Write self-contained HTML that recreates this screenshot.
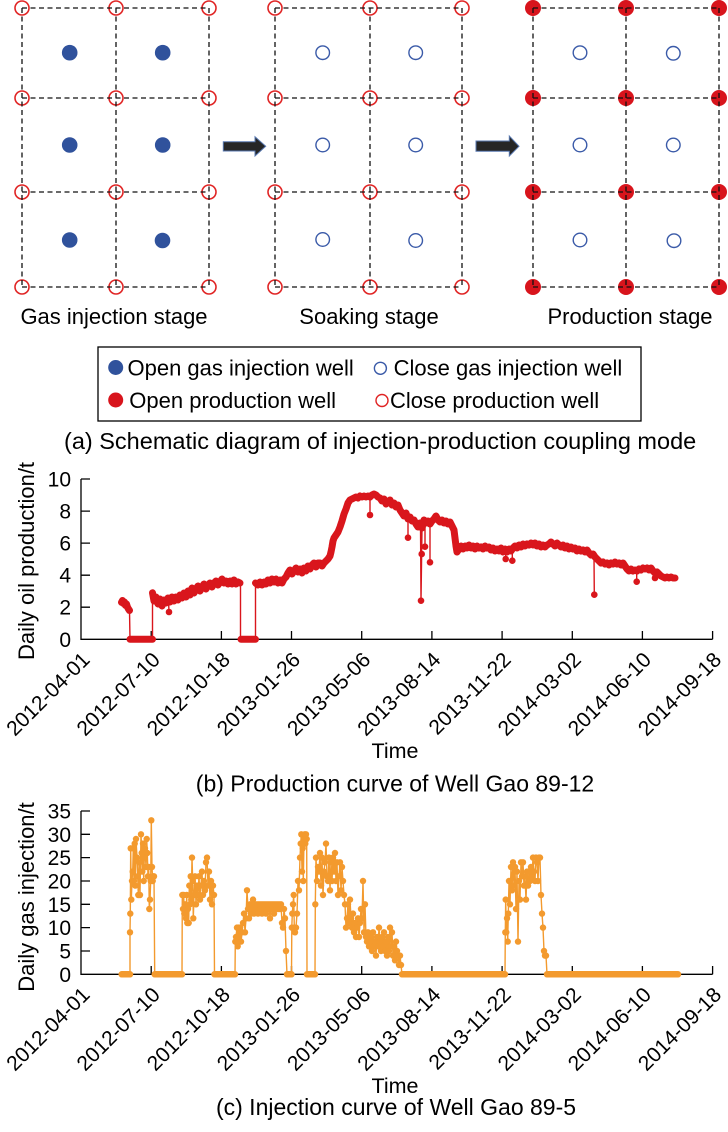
<!DOCTYPE html>
<html><head><meta charset="utf-8"><style>
html,body{margin:0;padding:0;background:#fff}
svg{display:block}
text{font-family:"Liberation Sans",Arial,sans-serif;fill:#000}
</style></head><body>
<svg width="728" height="1132" viewBox="0 0 728 1132" xmlns="http://www.w3.org/2000/svg">
<rect width="728" height="1132" fill="#fff"/>

<!-- ===== Grid 1 ===== -->
<g fill="none" stroke="#e02424" stroke-width="1.6">
<circle cx="22" cy="8" r="7"/><circle cx="116" cy="8" r="7"/><circle cx="209" cy="8" r="7"/>
<circle cx="22" cy="98" r="7"/><circle cx="116" cy="98" r="7"/><circle cx="209" cy="98" r="7"/>
<circle cx="22" cy="192" r="7"/><circle cx="116" cy="192" r="7"/><circle cx="209" cy="192" r="7"/>
<circle cx="22" cy="287" r="7"/><circle cx="116" cy="287" r="7"/><circle cx="209" cy="287" r="7"/>
</g>
<g fill="#30529c">
<circle cx="69.7" cy="52.7" r="7.8"/><circle cx="162.7" cy="52.7" r="7.8"/>
<circle cx="69.7" cy="145" r="7.8"/><circle cx="162.7" cy="145" r="7.8"/>
<circle cx="69.7" cy="240" r="7.8"/><circle cx="162.5" cy="240.5" r="7.8"/>
</g>
<g stroke="#111" stroke-width="1.3" stroke-dasharray="5 3.5" fill="none">
<path d="M22 8V287M116 8V287M209 8V287M22 8H209M22 98H209M22 192H209M22 287H209"/>
</g>

<!-- ===== Grid 2 ===== -->
<g fill="none" stroke="#e02424" stroke-width="1.6">
<circle cx="275" cy="8" r="7"/><circle cx="370" cy="8" r="7"/><circle cx="462" cy="8" r="7"/>
<circle cx="275" cy="98" r="7"/><circle cx="370" cy="98" r="7"/><circle cx="462" cy="98" r="7"/>
<circle cx="275" cy="192" r="7"/><circle cx="370" cy="192" r="7"/><circle cx="462" cy="192" r="7"/>
<circle cx="275" cy="287" r="7"/><circle cx="370" cy="287" r="7"/><circle cx="462" cy="287" r="7"/>
</g>
<g fill="none" stroke="#3a5aa8" stroke-width="1.4">
<circle cx="322.7" cy="52.7" r="6.8"/><circle cx="415.7" cy="52.7" r="6.8"/>
<circle cx="322.7" cy="145" r="6.8"/><circle cx="415.7" cy="145" r="6.8"/>
<circle cx="322.7" cy="239.5" r="6.8"/><circle cx="415.7" cy="240.5" r="6.8"/>
</g>
<g stroke="#111" stroke-width="1.3" stroke-dasharray="5 3.5" fill="none">
<path d="M275 8V287M370 8V287M462 8V287M275 8H462M275 98H462M275 192H462M275 287H462"/>
</g>

<!-- ===== Grid 3 ===== -->
<g fill="#d8141c">
<circle cx="533" cy="8" r="8"/><circle cx="626" cy="8" r="8"/><circle cx="719" cy="8" r="8"/>
<circle cx="533" cy="98" r="8"/><circle cx="626" cy="98" r="8"/><circle cx="719" cy="98" r="8"/>
<circle cx="533" cy="192" r="8"/><circle cx="626" cy="192" r="8"/><circle cx="719" cy="192" r="8"/>
<circle cx="533" cy="287" r="8"/><circle cx="626" cy="287" r="8"/><circle cx="719" cy="287" r="8"/>
</g>
<g fill="none" stroke="#3a5aa8" stroke-width="1.4">
<circle cx="580" cy="52.7" r="6.8"/><circle cx="673.3" cy="53.3" r="6.8"/>
<circle cx="580" cy="145" r="6.8"/><circle cx="673.3" cy="145" r="6.8"/>
<circle cx="580" cy="240" r="6.8"/><circle cx="674" cy="240.7" r="6.8"/>
</g>
<g stroke="#111" stroke-width="1.3" stroke-dasharray="5 3.5" fill="none">
<path d="M533 8V287M626 8V287M719 8V287M533 8H719M533 98H719M533 192H719M533 287H719"/>
</g>

<!-- arrows -->
<polygon points="223.3,141.7 255,141.7 255,136.7 265.7,146.3 255,156 255,151 223.3,151" fill="#262626" stroke="#5878b0" stroke-width="1"/>
<polygon points="476,141 509.3,141 509.3,136 519,146.3 509.3,156 509.3,151.3 476,151.3" fill="#262626" stroke="#5878b0" stroke-width="1"/>

<!-- stage labels -->
<g font-size="22" text-anchor="middle">
<text x="114" y="324">Gas injection stage</text>
<text x="369" y="324">Soaking stage</text>
<text x="630" y="324">Production stage</text>
</g>

<!-- legend -->
<rect x="98" y="347" width="543" height="74" fill="none" stroke="#000" stroke-width="1.3"/>
<circle cx="115.7" cy="367.5" r="7.5" fill="#30529c"/>
<circle cx="380.4" cy="368.3" r="6" fill="none" stroke="#3a5aa8" stroke-width="1.4"/>
<circle cx="115.7" cy="400" r="7.5" fill="#d8141c"/>
<circle cx="382" cy="400.5" r="6" fill="none" stroke="#e02424" stroke-width="1.4"/>
<g font-size="22">
<text x="127.5" y="375.7">Open gas injection well</text>
<text x="393.6" y="375.7">Close gas injection well</text>
<text x="129.3" y="407.9">Open production well</text>
<text x="390" y="407.9">Close production well</text>
</g>
<text x="64" y="449" font-size="23.5">(a) Schematic diagram of injection-production coupling mode</text>

<!-- ===== Chart b ===== -->
<g stroke="#000" stroke-width="1.3" fill="none">
<path d="M81 479V639.3H712.6"/>
<path d="M81 479H90M81 511.1H90M81 543.1H90M81 575.2H90M81 607.2H90"/>
<path d="M151.2 639.3V631M221.4 639.3V631M291.5 639.3V631M361.7 639.3V631M431.9 639.3V631M502.1 639.3V631M572.3 639.3V631M642.4 639.3V631M712.6 639.3V631"/>
</g>
<g font-size="21" text-anchor="end">
<text x="71" y="486.5">10</text>
<text x="71" y="518.6">8</text>
<text x="71" y="550.6">6</text>
<text x="71" y="582.7">4</text>
<text x="71" y="614.7">2</text>
<text x="71" y="646.8">0</text>
</g>
<g font-size="21" text-anchor="end">
<text transform="translate(91,661) rotate(-45)">2012-04-01</text>
<text transform="translate(161.2,661) rotate(-45)">2012-07-10</text>
<text transform="translate(231.4,661) rotate(-45)">2012-10-18</text>
<text transform="translate(301.5,661) rotate(-45)">2013-01-26</text>
<text transform="translate(371.7,661) rotate(-45)">2013-05-06</text>
<text transform="translate(441.9,661) rotate(-45)">2013-08-14</text>
<text transform="translate(512.1,661) rotate(-45)">2013-11-22</text>
<text transform="translate(582.3,661) rotate(-45)">2014-03-02</text>
<text transform="translate(652.4,661) rotate(-45)">2014-06-10</text>
<text transform="translate(722.6,661) rotate(-45)">2014-09-18</text>
</g>
<text transform="translate(34,561) rotate(-90)" font-size="22" text-anchor="middle">Daily oil production/t</text>
<text x="395" y="758" font-size="21.5" text-anchor="middle">Time</text>
<text x="395" y="791.5" font-size="23" text-anchor="middle">(b) Production curve of Well Gao 89-12</text>

<!-- series b -->
<g stroke="#d9161c" fill="none" stroke-linejoin="round" stroke-linecap="round">
<g stroke-width="1.4">
<path d="M129.5 610.5L130 639.3M152.5 639.3V592.8M168.5 600L169 612M240.5 583V639.3M255.5 639.3V583M370 497V515M408 519V537.7M420.5 523L421 600.7L422 528M421.5 528L421.7 554M425 523V546.7M430 524V562.3M505.7 549V559M512.3 549V560.7M594 556L594.3 594.7M636.7 571V581.7M655 571V578"/>
</g>
<g stroke-width="7">
<path d="M130 639.3H152.5M241 639.3H255.5"/>
<polyline points="121.5,602.4 122.5,600.5 123.5,603.5 124.5,602 125.5,605.5 126.5,604 127.5,607.2 128.5,609 129.5,610.5"/>
<polyline points="152.5,592.8 154,601 156,597 158,604 160,599 162,606 164,600 166,603 168,598 170,602 172,597 174,601 176,597 178,600 180,595 182,598 184,593 186,597 188,591 190,595 192,588 194,593 196,589 198,586 200,591 202,587 204,584 206,589 208,585 210,583 212,587 214,583 216,581 218,585 220,582 222,579 224,583 226,581 228,584 230,581 232,584 234,580 236,584 238,582 240,583"/>
<polyline points="255.5,583 258,585 260,582 262,585 264,582 266,584 268,580 270,583 272,579 274,582 276,579 278,583 280,580 282,583 284,579 286,577 288,573 290,570 292,574 294,571 296,568 298,572 300,569 302,573 304,568 306,571 308,566 310,569 312,565 314,563 316,567 318,563 320,563 322,566 324,563 326,561 328,559 330,556 331,552 332,547 333,541 334,538 336,535 338,532 340,527 342,521 344,514 346,509 348,503 350,500 352,499 354,498 356,497 358,498 360,496 362,497 364,496 366,497 368,496 370,497 372,495 374,494 376,495 378,497 380,498 382,501 384,499 386,504 388,502 390,500 392,505 394,503 396,507 398,505 400,510 402,513 404,516 406,513 408,519 410,517 412,521 414,520 416,524 418,527 420,523 422,528 424,520 426,523 428,521 430,524 432,521 434,519 436,516 438,520 440,522 442,520 444,523 446,521 448,524 450,522 452,526 454,530 455,538 456,546 457,552 459,549 461,546 463,549 465,546 467,548 469,545 471,548 473,546 475,549 477,546 479,548 481,547 483,549 485,546 487,548 489,547 491,550 493,548 495,551 497,549 499,551 501,548 503,552 505,549 507,552 509,549 511,551 513,548 515,546 517,548 519,545 521,547 523,544 525,546 527,544 529,545 531,543 533,545 535,543 537,546 539,544 541,547 543,545 545,547 547,545 549,544 551,542 553,544 555,546 557,543 559,545 561,547 563,545 565,548 567,546 569,549 571,547 573,549 575,548 577,551 579,549 581,551 583,550 585,552 587,550 589,553 591,555 593,554 595,557 597,559 599,561 601,563 603,562 605,564 607,563 609,565 611,563 613,564 615,562 617,564 619,563 621,565 623,563 625,566 627,569 629,571 631,569 633,571 635,570 637,571 639,569 641,570 643,568 645,569 647,568 649,570 651,568 653,571 655,573 657,572 659,574 661,576 663,577 665,578 667,577 669,578 671,577 673,578 675,578"/>
</g>
</g>
<g fill="#d9161c">
<circle cx="169" cy="612" r="3.3"/><circle cx="370" cy="515" r="3.3"/><circle cx="408" cy="537.7" r="3.3"/>
<circle cx="421" cy="600.7" r="3.3"/><circle cx="421.7" cy="554" r="3.3"/><circle cx="425" cy="546.7" r="3.3"/>
<circle cx="430" cy="562.3" r="3.3"/><circle cx="505.7" cy="559" r="3.3"/><circle cx="512.3" cy="560.7" r="3.3"/>
<circle cx="594.3" cy="594.7" r="3.3"/><circle cx="636.7" cy="581.7" r="3.3"/><circle cx="655" cy="578" r="3.3"/>
</g>

<!-- ===== Chart c ===== -->
<g stroke="#000" stroke-width="1.3" fill="none">
<path d="M81 811V974.3H712.6"/>
<path d="M81 811H90M81 834.3H90M81 857.6H90M81 881H90M81 904.3H90M81 927.6H90M81 951H90"/>
<path d="M151.2 974.3V966M221.4 974.3V966M291.5 974.3V966M361.7 974.3V966M431.9 974.3V966M502.1 974.3V966M572.3 974.3V966M642.4 974.3V966M712.6 974.3V966"/>
</g>
<g font-size="21" text-anchor="end">
<text x="71" y="818.5">35</text>
<text x="71" y="841.8">30</text>
<text x="71" y="865.1">25</text>
<text x="71" y="888.5">20</text>
<text x="71" y="911.8">15</text>
<text x="71" y="935.1">10</text>
<text x="71" y="958.5">5</text>
<text x="71" y="981.8">0</text>
</g>
<g font-size="21" text-anchor="end">
<text transform="translate(91,996) rotate(-45)">2012-04-01</text>
<text transform="translate(161.2,996) rotate(-45)">2012-07-10</text>
<text transform="translate(231.4,996) rotate(-45)">2012-10-18</text>
<text transform="translate(301.5,996) rotate(-45)">2013-01-26</text>
<text transform="translate(371.7,996) rotate(-45)">2013-05-06</text>
<text transform="translate(441.9,996) rotate(-45)">2013-08-14</text>
<text transform="translate(512.1,996) rotate(-45)">2013-11-22</text>
<text transform="translate(582.3,996) rotate(-45)">2014-03-02</text>
<text transform="translate(652.4,996) rotate(-45)">2014-06-10</text>
<text transform="translate(722.6,996) rotate(-45)">2014-09-18</text>
</g>
<text transform="translate(34,897) rotate(-90)" font-size="22" text-anchor="middle">Daily gas injection/t</text>
<text x="395" y="1093" font-size="21.5" text-anchor="middle">Time</text>
<text x="396" y="1115" font-size="23" text-anchor="middle">(c) Injection curve of Well Gao 89-5</text>

<!-- series c -->
<g stroke="#f39a2e" fill="none" stroke-linejoin="round" stroke-linecap="round">
<path stroke-width="6.5" d="M121.7 974.3H130M154.7 974.3H182M214.5 974.3H235M287 974.3H291.5M307 974.3H315M402 974.3H505M547 974.3H678"/>
<g stroke-width="1.4">
<polyline points="130,974.3 130,932.3 130.3,913.6 130.7,848.3 131.3,899.6 132,881 132.7,871.6 133.3,848.3 134,881 134.7,843.6 135.3,885.6 136,839 137,857.6 137.7,876.3 138.3,895 139,862.3 140,895 141,834.3 141.7,853 142.3,871.6 143,843.6 143.7,881 144.3,857.6 145,848.3 146,867 146.7,839 147.3,853 148,876.3 148.7,867 149.3,909 150,899.6 150.7,881 151.3,820.3 152,867 152.7,881 153.3,876.3 154,876.3 154.7,974.3"/>
<polyline points="182,974.3 182.3,895 183,909 183.7,895 184.3,913.6 185,904.3 186,918.3 186.7,895 187.3,923 188,909 188.7,923 189.3,885.6 190,904.3 190.7,876.3 191.3,899.6 192,857.6 192.7,881 193.3,918.3 194,895 195,876.3 196,904.3 197,885.6 198,895 199,876.3 200,899.6 201,885.6 202,871.6 203,895 204,881 205,890.3 206,862.3 207,857.6 208,885.6 209,871.6 210,899.6 211,881 212,904.3 213,885.6 214,895 214.5,974.3"/>
<polyline points="235,974.3 235.3,941.6 236,937 237,927.6 237.7,946.3 238.3,927.6 239,937 240,927.6 241,941.6 242,932.3 243,923 244,913.6 245,932.3 246,918.3 247,890.3 248,909 249,918.3 250,904.3 251,913.6 252,909 253,899.6 254,913.6 255,904.3 256,909 257,904.3 258,913.6 259,904.3 260,909 261,904.3 262,913.6 263,904.3 264,909 265,904.3 266,913.6 267,904.3 268,909 269,904.3 270,918.3 271,904.3 272,909 273,904.3 274,913.6 275,904.3 276,909 277,904.3 278,909 279,904.3 280,909 281,904.3 282,923 283,927.6 284,909 285,918.3 286,951 287,974.3"/>
<polyline points="291.5,974.3 291.8,927.6 292.3,913.6 293,904.3 293.7,895 294.3,927.6 295,932.3 296,927.6 297,913.6 298,881 299,890.3 300,857.6 300.7,843.6 301.3,834.3 302,871.6 302.7,848.3 303.3,881 304,839 304.7,834.3 305.3,843.6 306,834.3 306.7,839 307,974.3"/>
<polyline points="315,974.3 315.3,904.3 316,857.6 317,881 318,867 319,871.6 320,853 321,885.6 322,857.6 323,895 324,871.6 325,862.3 326,843.6 327,876.3 328,881 329,857.6 330,890.3 331,862.3 332,881 333,857.6 334,871.6 335,853 336,881 337,862.3 338,895 339,876.3 340,862.3 341,890.3 342,867 343,881 344,895 345,904.3 346,927.6 347,918.3 348,904.3 349,923 350,899.6 351,918.3 352,927.6 353,913.6 354,932.3 355,923 356,937 357,927.6 358,918.3 359,937 360,923 361,909 362,918.3 363,881 364,932.3 365,904.3 366,937 367,941.6 368,932.3 369,946.3 370,937 371,941.6 372,951 373,932.3 374,946.3 375,941.6 376,955.6 377,937 378,946.3 379,927.6 380,941.6 381,951 382,937 383,946.3 384,932.3 385,951 386,941.6 387,955.6 388,937 389,951 390,927.6 391,946.3 392,932.3 393,955.6 394,946.3 395,960.3 396,941.6 397,951 398,955.6 399,965 400,955.6 401,965 402,974.3"/>
<polyline points="505,974.3 505.3,932.3 505.7,899.6 506.3,932.3 507,918.3 507.7,941.6 508.3,913.6 509,881 510,904.3 511,867 512,890.3 513,862.3 514,885.6 515,867 516,909 517,871.6 518,941.6 519,881 520,899.6 521,862.3 522,876.3 523,862.3 524,885.6 525,876.3 526,899.6 527,871.6 528,885.6 529,871.6 530,881 531,867 532,876.3 533,857.6 534,871.6 535,881 536,857.6 537,862.3 538,881 539,857.6 540,857.6 541,895 542,913.6 543,927.6 544,951 545,955.6 546,955.6 547,974.3"/>
</g>
</g>
<g fill="#f39a2e">
<circle cx="130" cy="932.3" r="3.2"/><circle cx="130.3" cy="913.6" r="3.2"/><circle cx="130.7" cy="848.3" r="3.2"/><circle cx="131.3" cy="899.6" r="3.2"/><circle cx="132" cy="881" r="3.2"/><circle cx="132.7" cy="871.6" r="3.2"/><circle cx="133.3" cy="848.3" r="3.2"/><circle cx="134" cy="881" r="3.2"/><circle cx="134.7" cy="843.6" r="3.2"/><circle cx="135.3" cy="885.6" r="3.2"/><circle cx="136" cy="839" r="3.2"/><circle cx="137" cy="857.6" r="3.2"/><circle cx="137.7" cy="876.3" r="3.2"/><circle cx="138.3" cy="895" r="3.2"/><circle cx="139" cy="862.3" r="3.2"/><circle cx="140" cy="895" r="3.2"/><circle cx="141" cy="834.3" r="3.2"/><circle cx="141.7" cy="853" r="3.2"/><circle cx="142.3" cy="871.6" r="3.2"/><circle cx="143" cy="843.6" r="3.2"/><circle cx="143.7" cy="881" r="3.2"/><circle cx="144.3" cy="857.6" r="3.2"/><circle cx="145" cy="848.3" r="3.2"/><circle cx="146" cy="867" r="3.2"/><circle cx="146.7" cy="839" r="3.2"/><circle cx="147.3" cy="853" r="3.2"/><circle cx="148" cy="876.3" r="3.2"/><circle cx="148.7" cy="867" r="3.2"/><circle cx="149.3" cy="909" r="3.2"/><circle cx="150" cy="899.6" r="3.2"/><circle cx="150.7" cy="881" r="3.2"/><circle cx="151.3" cy="820.3" r="3.2"/><circle cx="152" cy="867" r="3.2"/><circle cx="152.7" cy="881" r="3.2"/><circle cx="153.3" cy="876.3" r="3.2"/><circle cx="154" cy="876.3" r="3.2"/>
<circle cx="182.3" cy="895" r="3.2"/><circle cx="183" cy="909" r="3.2"/><circle cx="183.7" cy="895" r="3.2"/><circle cx="184.3" cy="913.6" r="3.2"/><circle cx="185" cy="904.3" r="3.2"/><circle cx="186" cy="918.3" r="3.2"/><circle cx="186.7" cy="895" r="3.2"/><circle cx="187.3" cy="923" r="3.2"/><circle cx="188" cy="909" r="3.2"/><circle cx="188.7" cy="923" r="3.2"/><circle cx="189.3" cy="885.6" r="3.2"/><circle cx="190" cy="904.3" r="3.2"/><circle cx="190.7" cy="876.3" r="3.2"/><circle cx="191.3" cy="899.6" r="3.2"/><circle cx="192" cy="857.6" r="3.2"/><circle cx="192.7" cy="881" r="3.2"/><circle cx="193.3" cy="918.3" r="3.2"/><circle cx="194" cy="895" r="3.2"/><circle cx="195" cy="876.3" r="3.2"/><circle cx="196" cy="904.3" r="3.2"/><circle cx="197" cy="885.6" r="3.2"/><circle cx="198" cy="895" r="3.2"/><circle cx="199" cy="876.3" r="3.2"/><circle cx="200" cy="899.6" r="3.2"/><circle cx="201" cy="885.6" r="3.2"/><circle cx="202" cy="871.6" r="3.2"/><circle cx="203" cy="895" r="3.2"/><circle cx="204" cy="881" r="3.2"/><circle cx="205" cy="890.3" r="3.2"/><circle cx="206" cy="862.3" r="3.2"/><circle cx="207" cy="857.6" r="3.2"/><circle cx="208" cy="885.6" r="3.2"/><circle cx="209" cy="871.6" r="3.2"/><circle cx="210" cy="899.6" r="3.2"/><circle cx="211" cy="881" r="3.2"/><circle cx="212" cy="904.3" r="3.2"/><circle cx="213" cy="885.6" r="3.2"/><circle cx="214" cy="895" r="3.2"/>
<circle cx="235.3" cy="941.6" r="3.2"/><circle cx="236" cy="937" r="3.2"/><circle cx="237" cy="927.6" r="3.2"/><circle cx="237.7" cy="946.3" r="3.2"/><circle cx="238.3" cy="927.6" r="3.2"/><circle cx="239" cy="937" r="3.2"/><circle cx="240" cy="927.6" r="3.2"/><circle cx="241" cy="941.6" r="3.2"/><circle cx="242" cy="932.3" r="3.2"/><circle cx="243" cy="923" r="3.2"/><circle cx="244" cy="913.6" r="3.2"/><circle cx="245" cy="932.3" r="3.2"/><circle cx="246" cy="918.3" r="3.2"/><circle cx="247" cy="890.3" r="3.2"/><circle cx="248" cy="909" r="3.2"/><circle cx="249" cy="918.3" r="3.2"/><circle cx="250" cy="904.3" r="3.2"/><circle cx="251" cy="913.6" r="3.2"/><circle cx="252" cy="909" r="3.2"/><circle cx="253" cy="899.6" r="3.2"/><circle cx="254" cy="913.6" r="3.2"/><circle cx="255" cy="904.3" r="3.2"/><circle cx="256" cy="909" r="3.2"/><circle cx="257" cy="904.3" r="3.2"/><circle cx="258" cy="913.6" r="3.2"/><circle cx="259" cy="904.3" r="3.2"/><circle cx="260" cy="909" r="3.2"/><circle cx="261" cy="904.3" r="3.2"/><circle cx="262" cy="913.6" r="3.2"/><circle cx="263" cy="904.3" r="3.2"/><circle cx="264" cy="909" r="3.2"/><circle cx="265" cy="904.3" r="3.2"/><circle cx="266" cy="913.6" r="3.2"/><circle cx="267" cy="904.3" r="3.2"/><circle cx="268" cy="909" r="3.2"/><circle cx="269" cy="904.3" r="3.2"/><circle cx="270" cy="918.3" r="3.2"/><circle cx="271" cy="904.3" r="3.2"/><circle cx="272" cy="909" r="3.2"/><circle cx="273" cy="904.3" r="3.2"/><circle cx="274" cy="913.6" r="3.2"/><circle cx="275" cy="904.3" r="3.2"/><circle cx="276" cy="909" r="3.2"/><circle cx="277" cy="904.3" r="3.2"/><circle cx="278" cy="909" r="3.2"/><circle cx="279" cy="904.3" r="3.2"/><circle cx="280" cy="909" r="3.2"/><circle cx="281" cy="904.3" r="3.2"/><circle cx="282" cy="923" r="3.2"/><circle cx="283" cy="927.6" r="3.2"/><circle cx="284" cy="909" r="3.2"/><circle cx="285" cy="918.3" r="3.2"/><circle cx="286" cy="951" r="3.2"/>
<circle cx="291.8" cy="927.6" r="3.2"/><circle cx="292.3" cy="913.6" r="3.2"/><circle cx="293" cy="904.3" r="3.2"/><circle cx="293.7" cy="895" r="3.2"/><circle cx="294.3" cy="927.6" r="3.2"/><circle cx="295" cy="932.3" r="3.2"/><circle cx="296" cy="927.6" r="3.2"/><circle cx="297" cy="913.6" r="3.2"/><circle cx="298" cy="881" r="3.2"/><circle cx="299" cy="890.3" r="3.2"/><circle cx="300" cy="857.6" r="3.2"/><circle cx="300.7" cy="843.6" r="3.2"/><circle cx="301.3" cy="834.3" r="3.2"/><circle cx="302" cy="871.6" r="3.2"/><circle cx="302.7" cy="848.3" r="3.2"/><circle cx="303.3" cy="881" r="3.2"/><circle cx="304" cy="839" r="3.2"/><circle cx="304.7" cy="834.3" r="3.2"/><circle cx="305.3" cy="843.6" r="3.2"/><circle cx="306" cy="834.3" r="3.2"/><circle cx="306.7" cy="839" r="3.2"/>
<circle cx="315.3" cy="904.3" r="3.2"/><circle cx="316" cy="857.6" r="3.2"/><circle cx="317" cy="881" r="3.2"/><circle cx="318" cy="867" r="3.2"/><circle cx="319" cy="871.6" r="3.2"/><circle cx="320" cy="853" r="3.2"/><circle cx="321" cy="885.6" r="3.2"/><circle cx="322" cy="857.6" r="3.2"/><circle cx="323" cy="895" r="3.2"/><circle cx="324" cy="871.6" r="3.2"/><circle cx="325" cy="862.3" r="3.2"/><circle cx="326" cy="843.6" r="3.2"/><circle cx="327" cy="876.3" r="3.2"/><circle cx="328" cy="881" r="3.2"/><circle cx="329" cy="857.6" r="3.2"/><circle cx="330" cy="890.3" r="3.2"/><circle cx="331" cy="862.3" r="3.2"/><circle cx="332" cy="881" r="3.2"/><circle cx="333" cy="857.6" r="3.2"/><circle cx="334" cy="871.6" r="3.2"/><circle cx="335" cy="853" r="3.2"/><circle cx="336" cy="881" r="3.2"/><circle cx="337" cy="862.3" r="3.2"/><circle cx="338" cy="895" r="3.2"/><circle cx="339" cy="876.3" r="3.2"/><circle cx="340" cy="862.3" r="3.2"/><circle cx="341" cy="890.3" r="3.2"/><circle cx="342" cy="867" r="3.2"/><circle cx="343" cy="881" r="3.2"/><circle cx="344" cy="895" r="3.2"/><circle cx="345" cy="904.3" r="3.2"/><circle cx="346" cy="927.6" r="3.2"/><circle cx="347" cy="918.3" r="3.2"/><circle cx="348" cy="904.3" r="3.2"/><circle cx="349" cy="923" r="3.2"/><circle cx="350" cy="899.6" r="3.2"/><circle cx="351" cy="918.3" r="3.2"/><circle cx="352" cy="927.6" r="3.2"/><circle cx="353" cy="913.6" r="3.2"/><circle cx="354" cy="932.3" r="3.2"/><circle cx="355" cy="923" r="3.2"/><circle cx="356" cy="937" r="3.2"/><circle cx="357" cy="927.6" r="3.2"/><circle cx="358" cy="918.3" r="3.2"/><circle cx="359" cy="937" r="3.2"/><circle cx="360" cy="923" r="3.2"/><circle cx="361" cy="909" r="3.2"/><circle cx="362" cy="918.3" r="3.2"/><circle cx="363" cy="881" r="3.2"/><circle cx="364" cy="932.3" r="3.2"/><circle cx="365" cy="904.3" r="3.2"/><circle cx="366" cy="937" r="3.2"/><circle cx="367" cy="941.6" r="3.2"/><circle cx="368" cy="932.3" r="3.2"/><circle cx="369" cy="946.3" r="3.2"/><circle cx="370" cy="937" r="3.2"/><circle cx="371" cy="941.6" r="3.2"/><circle cx="372" cy="951" r="3.2"/><circle cx="373" cy="932.3" r="3.2"/><circle cx="374" cy="946.3" r="3.2"/><circle cx="375" cy="941.6" r="3.2"/><circle cx="376" cy="955.6" r="3.2"/><circle cx="377" cy="937" r="3.2"/><circle cx="378" cy="946.3" r="3.2"/><circle cx="379" cy="927.6" r="3.2"/><circle cx="380" cy="941.6" r="3.2"/><circle cx="381" cy="951" r="3.2"/><circle cx="382" cy="937" r="3.2"/><circle cx="383" cy="946.3" r="3.2"/><circle cx="384" cy="932.3" r="3.2"/><circle cx="385" cy="951" r="3.2"/><circle cx="386" cy="941.6" r="3.2"/><circle cx="387" cy="955.6" r="3.2"/><circle cx="388" cy="937" r="3.2"/><circle cx="389" cy="951" r="3.2"/><circle cx="390" cy="927.6" r="3.2"/><circle cx="391" cy="946.3" r="3.2"/><circle cx="392" cy="932.3" r="3.2"/><circle cx="393" cy="955.6" r="3.2"/><circle cx="394" cy="946.3" r="3.2"/><circle cx="395" cy="960.3" r="3.2"/><circle cx="396" cy="941.6" r="3.2"/><circle cx="397" cy="951" r="3.2"/><circle cx="398" cy="955.6" r="3.2"/><circle cx="399" cy="965" r="3.2"/><circle cx="400" cy="955.6" r="3.2"/><circle cx="401" cy="965" r="3.2"/>
<circle cx="505.3" cy="932.3" r="3.2"/><circle cx="505.7" cy="899.6" r="3.2"/><circle cx="506.3" cy="932.3" r="3.2"/><circle cx="507" cy="918.3" r="3.2"/><circle cx="507.7" cy="941.6" r="3.2"/><circle cx="508.3" cy="913.6" r="3.2"/><circle cx="509" cy="881" r="3.2"/><circle cx="510" cy="904.3" r="3.2"/><circle cx="511" cy="867" r="3.2"/><circle cx="512" cy="890.3" r="3.2"/><circle cx="513" cy="862.3" r="3.2"/><circle cx="514" cy="885.6" r="3.2"/><circle cx="515" cy="867" r="3.2"/><circle cx="516" cy="909" r="3.2"/><circle cx="517" cy="871.6" r="3.2"/><circle cx="518" cy="941.6" r="3.2"/><circle cx="519" cy="881" r="3.2"/><circle cx="520" cy="899.6" r="3.2"/><circle cx="521" cy="862.3" r="3.2"/><circle cx="522" cy="876.3" r="3.2"/><circle cx="523" cy="862.3" r="3.2"/><circle cx="524" cy="885.6" r="3.2"/><circle cx="525" cy="876.3" r="3.2"/><circle cx="526" cy="899.6" r="3.2"/><circle cx="527" cy="871.6" r="3.2"/><circle cx="528" cy="885.6" r="3.2"/><circle cx="529" cy="871.6" r="3.2"/><circle cx="530" cy="881" r="3.2"/><circle cx="531" cy="867" r="3.2"/><circle cx="532" cy="876.3" r="3.2"/><circle cx="533" cy="857.6" r="3.2"/><circle cx="534" cy="871.6" r="3.2"/><circle cx="535" cy="881" r="3.2"/><circle cx="536" cy="857.6" r="3.2"/><circle cx="537" cy="862.3" r="3.2"/><circle cx="538" cy="881" r="3.2"/><circle cx="539" cy="857.6" r="3.2"/><circle cx="540" cy="857.6" r="3.2"/><circle cx="541" cy="895" r="3.2"/><circle cx="542" cy="913.6" r="3.2"/><circle cx="543" cy="927.6" r="3.2"/><circle cx="544" cy="951" r="3.2"/><circle cx="545" cy="955.6" r="3.2"/><circle cx="546" cy="955.6" r="3.2"/>
</g>
</svg>
</body></html>
